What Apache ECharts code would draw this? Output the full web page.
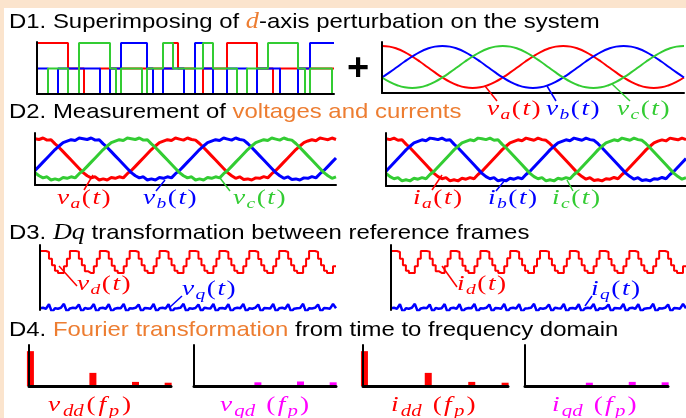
<!DOCTYPE html>
<html><head><meta charset="utf-8">
<script src="https://cdn.jsdelivr.net/npm/echarts@6/dist/echarts.min.js"></script>
<style>
html,body{margin:0;padding:0;background:#fbe4cd;}
#bg{position:absolute;left:4px;top:8px;width:682px;height:410px;background:#fff;}
#c{position:absolute;left:0;top:0;width:686px;height:418px;}
</style>
</head><body><div id="bg"></div><div id="c"></div>
<script>
// ---------- DATA ----------
// D1 left: superimposed PRBS perturbation (step times and levels +1/0/-1)
const prbsT = [0,11,21,31,42,47,63,73,79,84,105,110,116,126,136,141,147,158,166,176,190,200,210,220,231,236,243,261,268,273,295,297];
const prbsA = [1,1,1,0,0,-1,0,0,0,0,0,0,0,0,1,0,0,-1,0,0,1,1,1,0,0,-1,0,0,0,0,0,0];
const prbsB = [0,-1,0,0,0,0,-1,0,0,1,1,0,-1,0,0,0,-1,1,0,-1,0,0,-1,0,0,0,-1,0,0,1,1,1];
const prbsC = [-1,0,0,-1,1,1,1,0,-1,0,-1,0,0,1,0,0,0,0,1,0,0,-1,0,0,1,1,1,0,-1,0,-1,-1];
// D1 right: fundamental three-phase voltages, theta 0..600 deg (15 deg steps)
const sinA = [1,.97,.87,.71,.5,.26,0,-.26,-.5,-.71,-.87,-.97,-1,-.97,-.87,-.71,-.5,-.26,0,.26,.5,.71,.87,.97,1,.97,.87,.71,.5,.26,0,-.26,-.5,-.71,-.87,-.97,-1,-.97,-.87,-.71,-.5];
const sinB = [-.5,-.26,0,.26,.5,.71,.87,.97,1,.97,.87,.71,.5,.26,0,-.26,-.5,-.71,-.87,-.97,-1,-.97,-.87,-.71,-.5,-.26,0,.26,.5,.71,.87,.97,1,.97,.87,.71,.5,.26,0,-.26,-.5];
const sinC = [-.5,-.71,-.87,-.97,-1,-.97,-.87,-.71,-.5,-.26,0,.26,.5,.71,.87,.97,1,.97,.87,.71,.5,.26,0,-.26,-.5,-.71,-.87,-.97,-1,-.97,-.87,-.71,-.5,-.26,0,.26,.5,.71,.87,.97,1];
// D2: measured phase voltages (10 deg steps); currents share the same shape
const vA = [0.97,0.93,1.0,0.9,0.92,0.72,0.55,0.35,0.15,-0.05,-0.25,-0.45,-0.65,-0.8,-0.9,-0.85,-1.0,-0.95,-1.0,-0.88,-0.92,-0.85,-0.9,-0.7,-0.55,-0.35,-0.15,0.05,0.25,0.45,0.62,0.78,0.85,0.92,0.88,1.0,
 0.95,0.9,1.0,0.93,0.9,0.74,0.55,0.35,0.15,-0.05,-0.25,-0.45,-0.65,-0.8,-0.92,-0.85,-0.98,-0.95,-1.0,-0.9,-0.92,-0.84,-0.9,-0.7,-0.55,-0.35,-0.15,0.05,0.25,0.45,0.62,0.78,0.86,0.92,0.87,1.0,
 0.96,0.92,1.0,0.93];
const vB = [-0.55,-0.35,-0.15,0.05,0.25,0.45,0.62,0.78,0.85,0.92,0.88,1.0,
 0.97,0.93,1.0,0.9,0.92,0.72,0.55,0.35,0.15,-0.05,-0.25,-0.45,-0.65,-0.8,-0.9,-0.85,-1.0,-0.95,-1.0,-0.88,-0.92,-0.85,-0.9,-0.7,-0.55,-0.35,-0.15,0.05,0.25,0.45,0.62,0.78,0.85,0.92,0.88,1.0,
 0.95,0.9,1.0,0.93,0.9,0.74,0.55,0.35,0.15,-0.05,-0.25,-0.45,-0.65,-0.8,-0.92,-0.85,-0.98,-0.95,-1.0,-0.9,-0.92,-0.84,-0.9,-0.7,-0.55,-0.35,-0.15,0.05];
const vC = [-0.65,-0.8,-0.9,-0.85,-1.0,-0.95,-1.0,-0.88,-0.92,-0.85,-0.9,-0.7,-0.55,-0.35,-0.15,0.05,0.25,0.45,0.62,0.78,0.85,0.92,0.88,1.0,
 0.97,0.93,1.0,0.9,0.92,0.72,0.55,0.35,0.15,-0.05,-0.25,-0.45,-0.65,-0.8,-0.9,-0.85,-1.0,-0.95,-1.0,-0.88,-0.92,-0.85,-0.9,-0.7,-0.55,-0.35,-0.15,0.05,0.25,0.45,0.62,0.78,0.85,0.92,0.88,1.0,
 0.95,0.9,1.0,0.93,0.9,0.74,0.55,0.35,0.15,-0.05,-0.25,-0.45,-0.65,-0.8,-0.92,-0.85];
// D3: dq-frame signals (d: 0..1 scale, q: offset below)
const vD = [1,1,0.95,0.65,0.35,0.1,0,0,0.3,0.65, 1,1,0.97,0.65,0.35,0.08,0,0,0.3,0.65, 1,1,0.95,0.65,0.33,0.1,0,0,0.3,0.65, 1,1,0.95,0.65,0.35,0.1,0,0,0.3,0.67, 1,1,0.95,0.65,0.35,0.1,0,0,0.3,0.65,
 1,1,0.97,0.65,0.35,0.1,0,0,0.3,0.65, 1,1,0.95,0.65,0.35,0.1,0,0,0.3,0.65, 1,1,0.95,0.63,0.35,0.1,0,0,0.3,0.65, 1,1,0.95,0.65,0.35,0.1,0,0,0.3,0.65, 1,1,0.95,0.65,0.35,0.1,0,0,0.3,0.3];
const vQ = [-1.6,-1.58,-1.62,-1.42,-1.78, -1.6,-1.62,-1.58,-1.4,-1.76, -1.61,-1.58,-1.6,-1.43,-1.77, -1.59,-1.62,-1.6,-1.41,-1.79, -1.6,-1.58,-1.62,-1.42,-1.76,
 -1.62,-1.59,-1.6,-1.4,-1.78, -1.6,-1.61,-1.58,-1.43,-1.77, -1.59,-1.6,-1.62,-1.41,-1.76, -1.6,-1.58,-1.61,-1.42,-1.78, -1.61,-1.6,-1.58,-1.4,-1.77,
 -1.6,-1.62,-1.59,-1.43,-1.76, -1.58,-1.6,-1.61,-1.41,-1.78, -1.6,-1.59,-1.62,-1.42,-1.77, -1.61,-1.58,-1.6,-1.4,-1.76, -1.6,-1.62,-1.58,-1.43,-1.78,
 -1.59,-1.6,-1.61,-1.41,-1.77, -1.6,-1.58,-1.62,-1.42,-1.76, -1.62,-1.6,-1.59,-1.4,-1.78, -1.6,-1.61,-1.58,-1.43,-1.77, -1.59,-1.6,-1.62,-1.41,-1.6];
// D4: spectra at perturbation frequency bins
const fBins = [1, 45, 75, 98];
const vdd = [0.85, 0.32, 0.1, 0.08];
const vqd = [0, 0.09, 0.11, 0.09];
const idd = [0.85, 0.32, 0.1, 0.08];
const iqd = [0, 0.08, 0.1, 0.09];

// ---------- STYLE ----------
const RED='#ff0000', BLUE='#0000ff', GREEN='#33cc33', MAG='#ff00ff', ORANGE='#ed7d31';
const TF = '21px "Liberation Sans", Arial, sans-serif';
const MF = '"Liberation Serif", serif';
const TSX = 1.14;   // horizontal stretch of the title text
const MSX = 1.3;    // horizontal stretch of the math labels

const chart = echarts.init(document.getElementById('c'), null, {renderer:'canvas'});
const grids = [
  {left:37, top:42, width:297, height:52},   // 0 D1 prbs
  {left:382, top:42, width:302, height:51},  // 1 D1 sines
  {left:35, top:133, width:301, height:52},  // 2 D2 v
  {left:386, top:133, width:300, height:53}, // 3 D2 i
  {left:40, top:245, width:296, height:65},  // 4 D3 v
  {left:391, top:245, width:295, height:65}, // 5 D3 i
  {left:29, top:345, width:142, height:41},  // 6 D4
  {left:194, top:345, width:142, height:41}, // 7
  {left:363, top:345, width:145, height:41}, // 8
  {left:525, top:345, width:143, height:41}  // 9
];
const ax = (w)=>({show:true, lineStyle:{color:'#000', width:w||2}, onZero:false});
const idx = (n)=>Array.from({length:n},(_, i)=>i);
const xAxes = [], yAxes = [];
grids.forEach((g,i)=>{
  let xa = {gridIndex:i, axisTick:{show:false}, axisLabel:{show:false}, splitLine:{show:false}, axisLine:ax(2), z:5};
  let ya = {gridIndex:i, type:'value', axisTick:{show:false}, axisLabel:{show:false}, splitLine:{show:false}, axisLine:ax(2), z:5};
  if(i===0){ Object.assign(xa,{type:'value',min:0,max:297}); Object.assign(ya,{min:-1,max:1.04}); }
  if(i===1){ Object.assign(xa,{type:'category',boundaryGap:false,data:idx(sinA.length)}); Object.assign(ya,{min:-1.24,max:1.19}); }
  if(i===2||i===3){ Object.assign(xa,{type:'category',boundaryGap:false,data:idx(vA.length)}); Object.assign(ya,{min:-1.24,max:1.24}); }
  if(i===4||i===5){ Object.assign(xa,{type:'category',boundaryGap:false,data:idx(vD.length),axisLine:{show:false}}); Object.assign(ya,{min:-1.68,max:1.27}); }
  if(i>=6){ Object.assign(xa,{type:'value',min:0,max:100,axisLine:ax(3)}); Object.assign(ya,{min:0,max:1}); }
  xAxes.push(xa); yAxes.push(ya);
});

const series = [];
const ln = (g, data, color, w, extra)=>series.push(Object.assign({type:'line', xAxisIndex:g, yAxisIndex:g, data, symbol:'none', lineStyle:{color, width:w}, itemStyle:{color}, silent:true}, extra||{}));
const pairs = (t, v)=>t.map((x,i)=>[x, v[i]]);
ln(0, pairs(prbsT, prbsA), RED, 2, {step:'end'});
ln(0, pairs(prbsT, prbsB), BLUE, 2, {step:'end'});
ln(0, pairs(prbsT, prbsC), GREEN, 2, {step:'end'});
ln(1, sinA, RED, 2, {smooth:true});
ln(1, sinB, BLUE, 2, {smooth:true});
ln(1, sinC, GREEN, 2, {smooth:true});
[2,3].forEach(g=>{ ln(g, vA, RED, 3); ln(g, vB, BLUE, 3); ln(g, vC, GREEN, 3); });
[4,5].forEach(g=>{ ln(g, vD, RED, 2, {step:'end'}); ln(g, vQ, BLUE, 2.5); });
const bar = (g, vals, color)=>series.push({type:'bar', xAxisIndex:g, yAxisIndex:g, data:pairs(fBins, vals), barWidth:7, itemStyle:{color}, silent:true});
bar(6, vdd, RED); bar(7, vqd, MAG); bar(8, idd, RED); bar(9, iqd, MAG);

// ---------- TEXT ----------
const ctx = document.createElement('canvas').getContext('2d');
function tw(t, font){ ctx.font = font; return ctx.measureText(t).width; }
function mathLabel(x, y, color, toks, size, gap, subK){
  const out=[]; let cx=x;
  toks.forEach(([t,k])=>{
    const sub = k==='s';
    const fs = sub ? Math.round(size*(subK||0.72)) : size;
    const font = (k==='u'?'':'italic ')+fs+'px '+MF;
    out.push({type:'text', x:cx, y: sub ? y+size*0.3 : y, scaleX:MSX, z:20, silent:true, style:{text:t, font, fill:color, align:'left', verticalAlign:'middle'}});
    cx += tw(t,font)*MSX+gap;
  });
  return out;
}
const L = (base, sub, arg, argSub, space)=>{
  const t=[[base,'i'],[sub,'s']];
  if(space) t.push([' ','u']);
  t.push(['(','u'],[arg,'i']);
  if(argSub) t.push([argSub,'s']);
  t.push([')','u']);
  return t;
};
const lineEl = (x1,y1,x2,y2,c)=>({type:'line', z:15, silent:true, shape:{x1,y1,x2,y2}, style:{stroke:c, lineWidth:1.5}});
const title = (y, parts)=>({type:'text', x:9, y, scaleX:TSX, z:20, silent:true, style:{
  text: parts.map(p=>'{'+p[1]+'|'+p[0]+'}').join(''),
  rich:{k:{font:TF, fill:'#000'}, o:{font:TF, fill:ORANGE}, d:{font:'italic 23px '+MF, fill:ORANGE}, m:{font:'italic 23px '+MF, fill:'#000'}},
  verticalAlign:'middle'}});

const S = 21, G = 1.5;
let gfx = [
  title(22, [['D1. Superimposing of ','k'],['d','d'],['-axis perturbation on the system','k']]),
  title(112, [['D2. Measurement of ','k'],['voltages and currents','o']]),
  title(233, [['D3. ','k'],['Dq','m'],[' transformation between reference frames','k']]),
  title(330, [['D4. ','k'],['Fourier transformation','o'],[' from time to frequency domain','k']]),
  {type:'text', x:358, y:70, z:20, silent:true, style:{text:'+', font:'bold 38px "Liberation Sans", Arial', fill:'#000', align:'center', verticalAlign:'middle'}},
  lineEl(485,86,497,101,RED), lineEl(547,86,556,101,BLUE), lineEl(612,84,630,101,GREEN),
  lineEl(93,175,84,190,RED), lineEl(165,180,156,191,BLUE), lineEl(220,178,230,191,GREEN),
  lineEl(442,175,432,190,RED), lineEl(505,180,496,191,BLUE), lineEl(567,180,573,191,GREEN),
  lineEl(59,266,77,286,RED), lineEl(169,308,182,296,BLUE), lineEl(442,266,457,287,RED), lineEl(585,306,592,296,BLUE)
];
gfx = gfx.concat(
  mathLabel(487,109,RED,L('v','a','t'),S,G), mathLabel(546,109,BLUE,L('v','b','t'),S,G), mathLabel(617,109,GREEN,L('v','c','t'),S,G),
  mathLabel(57,198,RED,L('v','a','t'),S,G), mathLabel(143,198,BLUE,L('v','b','t'),S,G), mathLabel(233,198,GREEN,L('v','c','t'),S,G),
  mathLabel(413,198,RED,L('i','a','t'),S,G), mathLabel(488,198,BLUE,L('i','b','t'),S,G), mathLabel(552,198,GREEN,L('i','c','t'),S,G),
  mathLabel(77,284,RED,L('v','d','t'),S,G), mathLabel(182,289,BLUE,L('v','q','t'),S,G),
  mathLabel(457,284,RED,L('i','d','t'),S,G), mathLabel(591,289,BLUE,L('i','q','t'),S,G),
  mathLabel(48,405,RED,L('v','dd','f','p'),S,2.8,0.76), mathLabel(220,405,MAG,L('v','qd','f','p',true),S,2.2,0.76),
  mathLabel(391,405,RED,L('i','dd','f','p',true),S,2.2,0.76), mathLabel(552,405,MAG,L('i','qd','f','p',true),S,2.2,0.76)
);

chart.setOption({
  animation:false,
  backgroundColor:'transparent',
  grid:grids, xAxis:xAxes, yAxis:yAxes, series,
  graphic:{elements:gfx}
});
</script></body></html>
